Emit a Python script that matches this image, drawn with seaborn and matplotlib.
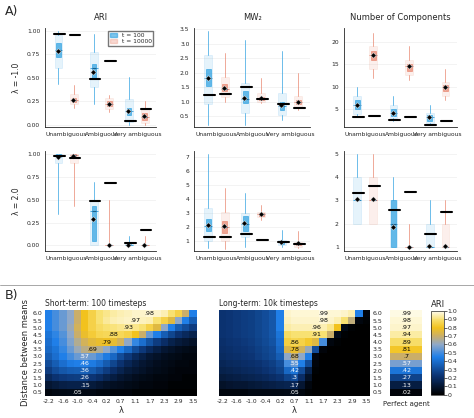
import numpy as np
import matplotlib
matplotlib.use("Agg")
import matplotlib.pyplot as plt
import seaborn as sns
from matplotlib.colors import LinearSegmentedColormap
from matplotlib.lines import Line2D

sns.set_style("white")
plt.rcParams['font.family'] = ['DejaVu Sans']

categories = ["Unambiguous", "Ambiguous", "Very ambiguous"]
# stats per category: [min, p10, q1, median, q3, p90, max, mean], black reference line
ari_m1_t100 = [[.43,.6,.72,.8,.87,.96,1.0,.79],[.22,.4,.5,.6,.65,.77,.97,.56],[0,.03,.1,.15,.18,.27,.51,.15]]
ari_m1_t10k = [[.18,.22,.24,.26,.28,.33,.42,.26],[.13,.17,.2,.22,.25,.28,.32,.22],[0,.02,.05,.08,.12,.18,.25,.09]]
ari_m1_ref = [[.97,.96],[.49,.68],[.04,.17]]
mw_m1_t100 = [[.18,.9,1.55,1.8,2.12,2.6,3.45,1.82],[.2,.6,.95,1.1,1.35,1.65,3.15,1.12],[.35,.55,.72,.85,.98,1.3,2.75,.87]]
mw_m1_t10k = [[1.0,1.15,1.35,1.45,1.6,1.85,2.68,1.48],[.95,1.0,1.05,1.1,1.15,1.3,1.8,1.12],[.7,.8,.9,.97,1.05,1.2,2.0,.98]]
mw_m1_ref = [[1.23,1.26],[1.52,1.1],[.9,.77]]
nc_m1_t100 = [[3.5,4,5,6,7,8,10,6],[2.5,3,3.5,4.3,5,6,8,4.3],[1.8,2,2.5,3.3,3.8,4.2,6,3.4]]
nc_m1_t10k = [[12,14,16,17,18,19,22,17],[11.5,12.5,13.5,14.5,15,16,19,14.5],[7,8,9,10,10.5,11,14,9.9]]
nc_m1_ref = [[3.4,3.6],[2.7,3.4],[1.6,2.5]]
ari_p2_t100 = [[.34,.9,.97,.98,1.0,1.0,1.0,.97],[0,0,.05,.38,.43,.5,.69,.29],[0,0,0,0,.01,.03,.1,0]]
ari_p2_t10k = [[.43,.9,.97,.99,1.0,1.0,1.0,.98],[0,0,0,0,0,0,.5,0],[0,0,0,0,0,0,.1,0]]
ari_p2_ref = [[.98,.96],[.49,.68],[.03,.17]]
mw_p2_t100 = [[.5,1,1.7,2.1,2.6,3.35,7.2,2.15],[.6,1.3,1.7,2.2,2.8,3.0,4.4,2.3],[.6,.7,.8,.9,1.0,1.05,1.8,.9]]
mw_p2_t10k = [[.4,1,1.6,2,2.4,3.1,4.8,2.05],[2.5,2.7,2.8,2.9,3.0,3.1,3.6,2.95],[.5,.6,.7,.8,.85,.9,1.7,.85]]
mw_p2_ref = [[1.25,1.3],[1.5,1.05],[.9,.75]]
nc_p2_t100 = [[2,2,3,3,3,4,5,3.05],[1,1,1,2,3,3,4,1.85],[1,1,1,1,1,2,3,1.05]]
nc_p2_t10k = [[2,2,3,3,3,4,5,3.05],[1,1,1,1,1,1,2,1.0],[1,1,1,1,1,2,3,1.05]]
nc_p2_ref = [[3.3,3.6],[2.6,3.35],[1.55,2.5]]

distances = [6.0,5.5,5.0,4.5,4.0,3.5,3.0,2.5,2.0,1.5,1.0,0.5]
lam_labels = ["-2.2","-1.6","-1.0","-0.4","0.2","0.7","1.1","1.7","2.3","2.9","3.5"]
short_term = [
 [.45,.5,.55,.6,.7,.8,.85,.9,.92,.94,.95,.96,.97,.97,.98,.97,.95,.9,.85,.7,.45],
 [.45,.5,.55,.6,.7,.8,.85,.9,.93,.95,.96,.965,.97,.96,.95,.9,.85,.75,.6,.45,.35],
 [.45,.5,.55,.62,.72,.8,.85,.88,.9,.91,.92,.93,.92,.9,.85,.75,.6,.45,.35,.3,.25],
 [.42,.47,.52,.6,.7,.78,.83,.86,.87,.88,.87,.85,.8,.7,.55,.45,.35,.28,.22,.18,.15],
 [.4,.45,.5,.58,.66,.72,.76,.78,.79,.77,.72,.6,.48,.4,.32,.25,.2,.15,.12,.1,.08],
 [.38,.42,.48,.55,.62,.67,.69,.66,.6,.52,.45,.38,.3,.24,.18,.14,.1,.08,.06,.05,.04],
 [.35,.4,.45,.5,.55,.57,.55,.5,.44,.38,.3,.24,.18,.14,.1,.08,.06,.05,.04,.03,.03],
 [.3,.35,.4,.44,.45,.46,.44,.4,.34,.28,.22,.17,.13,.1,.08,.06,.05,.04,.03,.03,.02],
 [.25,.3,.33,.35,.355,.36,.34,.3,.25,.2,.16,.12,.1,.08,.06,.05,.04,.03,.02,.02,.02],
 [.18,.22,.24,.25,.255,.26,.23,.2,.16,.13,.1,.08,.06,.05,.04,.03,.03,.02,.02,.01,.01],
 [.1,.12,.14,.145,.148,.15,.12,.1,.08,.07,.06,.05,.04,.03,.03,.02,.02,.01,.01,.01,.01],
 [.03,.04,.045,.048,.05,.04,.04,.03,.03,.02,.02,.02,.01,.01,.01,.01,.01,0,0,0,0],
]
long_term = [
 [.22,.23,.24,.25,.26,.28,.3,.33,.45,.97,.98,.98,.98,.98,.99,.98,.98,.97,.95,.45,.02],
 [.22,.23,.24,.25,.26,.28,.3,.33,.45,.96,.97,.97,.97,.97,.98,.97,.95,.9,.68,.03,.01],
 [.22,.23,.24,.25,.26,.28,.3,.33,.45,.94,.95,.95,.95,.96,.95,.92,.8,.04,.01,0,0],
 [.22,.23,.24,.25,.26,.28,.3,.33,.42,.88,.9,.9,.9,.91,.9,.7,.05,.01,0,0,0],
 [.21,.22,.23,.24,.25,.27,.29,.32,.4,.84,.86,.85,.82,.75,.5,.03,.01,0,0,0,0],
 [.2,.21,.22,.23,.24,.26,.28,.3,.38,.74,.78,.72,.62,.3,.02,0,0,0,0,0,0],
 [.19,.2,.21,.22,.23,.25,.27,.29,.35,.6,.68,.6,.45,.03,0,0,0,0,0,0,0],
 [.17,.18,.19,.2,.21,.22,.24,.26,.3,.5,.55,.45,.3,.02,0,0,0,0,0,0,0],
 [.15,.16,.17,.18,.19,.2,.22,.24,.27,.38,.42,.3,.15,.01,0,0,0,0,0,0,0],
 [.12,.13,.14,.15,.16,.17,.18,.2,.22,.27,.3,.2,.08,0,0,0,0,0,0,0,0],
 [.08,.09,.1,.1,.11,.12,.13,.14,.15,.16,.17,.1,.03,0,0,0,0,0,0,0,0],
 [.03,.03,.03,.03,.04,.04,.04,.04,.04,.045,.05,.03,.01,0,0,0,0,0,0,0,0],
]
perfect_agent = [.99,.98,.97,.94,.89,.81,.7,.57,.42,.27,.13,.02]

BLUE = "#2a9fe0"
RED = "#e8826a"
cmap = LinearSegmentedColormap.from_list("ari", [(0,"#000000"),(0.22,"#0b3270"),(0.45,"#1f7fe8"),
    (0.6,"#8fa8c8"),(0.7,"#c9ae6a"),(0.8,"#f2c21e"),(0.9,"#f8e070"),(1.0,"#fffcee")])

fig = plt.figure(figsize=(4.74, 4.18), dpi=100)

def fmt(v):
    s = f"{v:.2f}"
    if s.startswith("0"): s = s[1:]
    s = s.rstrip("0")
    return s if s != "." else ".0"

def draw_group(ax, stats, pos, color):
    mn, p10, q1, med, q3, p90, mx, mean = stats
    outer = dict(whislo=mn, q1=p10, med=med, q3=p90, whishi=mx, fliers=[])
    ax.bxp([outer], positions=[pos], widths=0.22, patch_artist=True, showcaps=False,
           boxprops=dict(facecolor=color, alpha=0.12, edgecolor=color, linewidth=0.6),
           whiskerprops=dict(color=color, linewidth=0.6, alpha=0.8),
           medianprops=dict(color=color, linewidth=0.6), manage_ticks=False)
    inner = dict(whislo=q1, q1=q1, med=med, q3=q3, whishi=q3, fliers=[])
    ax.bxp([inner], positions=[pos], widths=0.13, patch_artist=True, showcaps=False,
           boxprops=dict(facecolor=color, alpha=0.7, edgecolor=color, linewidth=0.6),
           whiskerprops=dict(linewidth=0), medianprops=dict(color="#1d5f8a", linewidth=0.8),
           manage_ticks=False)
    ax.plot([pos-0.02], [mean], marker="D", ms=2.8, color="black", mec="white", mew=0.3, zorder=5)

def box_panel(rect, t100, t10k, ref, title=None, ylabel=None, yticks=None, ylim=None, legend=False):
    ax = fig.add_axes(rect)
    for i in range(3):
        draw_group(ax, t100[i], i-0.22, BLUE)
        draw_group(ax, t10k[i], i+0.22, RED)
        for j, p in enumerate([i-0.22, i+0.22]):
            ax.plot([p-0.12, p+0.18], [ref[i][j]]*2, color="black", lw=1.5, zorder=6)
    ax.set_xlim(-0.6, 2.55)
    ax.set_xticks(range(3)); ax.set_xticklabels(categories, fontsize=4.3)
    if yticks is not None: ax.set_yticks(yticks)
    if ylim is not None: ax.set_ylim(*ylim)
    ax.tick_params(labelsize=4.3, length=2, width=0.5, pad=1.5)
    ax.grid(axis="y", color="#eeeeee", lw=0.5)
    for s in ["top","right"]: ax.spines[s].set_visible(False)
    for s in ["left","bottom"]: ax.spines[s].set_linewidth(0.6)
    if title: ax.set_title(title, fontsize=6, pad=6)
    if ylabel: ax.set_ylabel(ylabel, fontsize=5.5)
    if legend:
        h = [plt.Rectangle((0,0),1,1,fc=BLUE,alpha=0.6,ec=BLUE), plt.Rectangle((0,0),1,1,fc=RED,alpha=0.3,ec=RED)]
        ax.legend(h, ["t = 100","t = 10000"], fontsize=4.3, loc="upper right", frameon=True,
                  fancybox=False, edgecolor="#555555", handlelength=1.2, borderpad=0.3, labelspacing=0.2)
    return ax

r1b, r2b, hh = 0.695, 0.40, 0.238
box_panel([0.095, r1b, 0.235, hh], ari_m1_t100, ari_m1_t10k, ari_m1_ref, "ARI", "λ = -1.0",
          [0,.25,.5,.75,1.0], (-0.03,1.03), legend=True)
box_panel([0.41, r1b, 0.245, hh], mw_m1_t100, mw_m1_t10k, mw_m1_ref, "MW₂", None,
          [0.5,1,1.5,2,2.5,3,3.5], (0.1,3.55))
box_panel([0.725, r1b, 0.24, hh], nc_m1_t100, nc_m1_t10k, nc_m1_ref, "Number of Components", None,
          [5,10,15,20], (1,23))
box_panel([0.095, r2b, 0.235, hh], ari_p2_t100, ari_p2_t10k, ari_p2_ref, None, "λ = 2.0",
          [0,.25,.5,.75,1.0], (-0.06,1.03))
box_panel([0.41, r2b, 0.245, hh], mw_p2_t100, mw_p2_t10k, mw_p2_ref, None, None,
          [1,2,3,4,5,6,7], (0.3,7.4))
box_panel([0.725, r2b, 0.24, hh], nc_p2_t100, nc_p2_t10k, nc_p2_ref, None, None,
          [1,2,3,4,5], (0.85,5.1))

fig.text(0.01, 0.965, "A)", fontsize=9)
fig.text(0.01, 0.285, "B)", fontsize=9)
fig.add_artist(Line2D([0.0,1.0],[0.318,0.318], color="#999999", lw=0.6))

def heat(rect, data, title, ylab_side):
    ax = fig.add_axes(rect)
    arr = np.array(data)
    sns.heatmap(arr, ax=ax, cmap=cmap, vmin=0, vmax=1, cbar=False, xticklabels=False, yticklabels=False)
    for r in range(arr.shape[0]):
        c = int(np.argmax(arr[r])); v = arr[r, c]
        ax.text(c+0.5, r+0.5, fmt(v), ha="center", va="center", fontsize=4.5,
                color="white" if v < 0.6 else "black")
    ax.set_xticks(np.arange(0, arr.shape[1], 2)+0.5)
    ax.set_xticklabels(lam_labels, fontsize=4.3, rotation=0)
    ax.set_yticks(np.arange(len(distances))+0.5)
    ax.set_yticklabels([f"{d:.1f}" for d in distances], fontsize=4.5, rotation=0)
    if ylab_side == "right":
        ax.yaxis.tick_right()
    ax.tick_params(length=0, pad=2)
    ax.set_xlabel("λ", fontsize=6, labelpad=2)
    ax.set_title(title, fontsize=5.5, loc="left", pad=3)
    return ax

hb, hhh = 0.053, 0.206
a1 = heat([0.095, hb, 0.32, hhh], short_term, "Short-term: 100 timesteps", "left")
a1.set_ylabel("Distance between means", fontsize=6, labelpad=2)
heat([0.462, hb, 0.318, hhh], long_term, "Long-term: 10k timesteps", "right")

ap = fig.add_axes([0.823, hb, 0.068, hhh])
pa = np.array(perfect_agent).reshape(-1, 1)
sns.heatmap(pa, ax=ap, cmap=cmap, vmin=0, vmax=1, cbar=False, xticklabels=False, yticklabels=False)
for r, v in enumerate(perfect_agent):
    ap.text(0.5, r+0.5, fmt(v), ha="center", va="center", fontsize=4.5, color="white" if v < 0.6 else "black")
ap.set_xlabel("Perfect agent", fontsize=5, labelpad=4)

cax = fig.add_axes([0.909, hb+0.003, 0.027, hhh-0.006])
cb = fig.colorbar(ap.collections[0], cax=cax)
cb.set_ticks(np.linspace(0, 1, 11))
cb.set_ticklabels(["0"] + [f"{x:.1f}" for x in np.linspace(0.1, 1, 10)])
cb.ax.tick_params(labelsize=4.5, length=2, width=0.5, pad=1)
cb.outline.set_linewidth(0.5)
cax.set_title("ARI", fontsize=6, loc="left", pad=3)

fig.savefig("out.png", dpi=100)
